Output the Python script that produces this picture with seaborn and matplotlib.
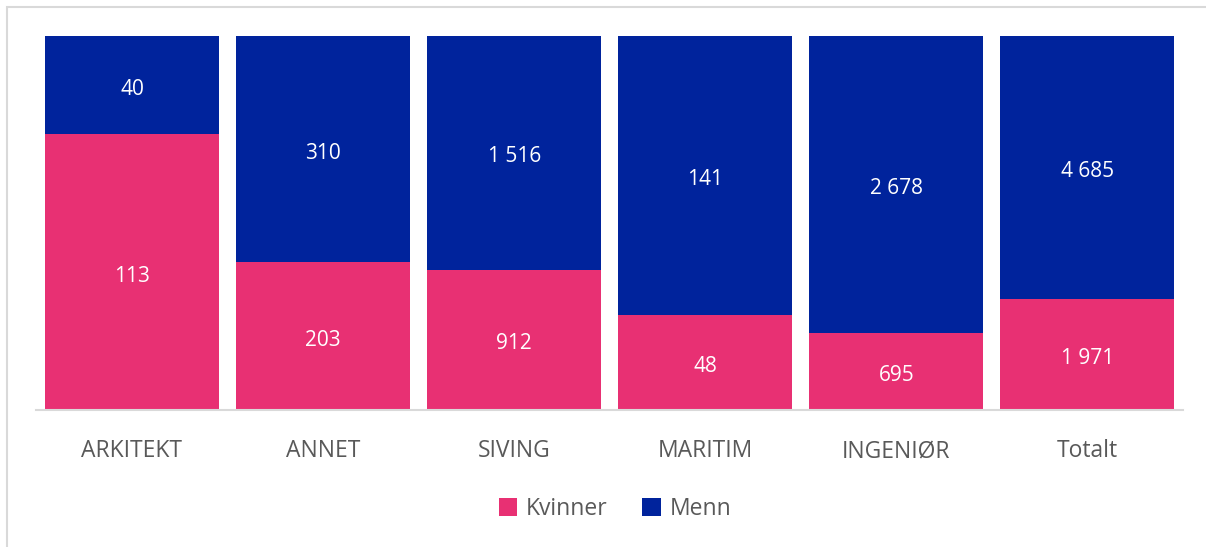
import pandas as pd
import matplotlib.pyplot as plt
import seaborn as sns
from matplotlib.patches import Rectangle

# Data
categories = ['ARKITEKT', 'ANNET', 'SIVING', 'MARITIM', 'INGENIØR', 'Totalt']
kvinner = [113, 203, 912, 48, 695, 1971]
menn = [40, 310, 1516, 141, 2678, 4685]

pink = '#E83073'
blue = '#00239C'
grey = '#595959'

df = pd.DataFrame({'kategori': categories, 'Kvinner': kvinner, 'Menn': menn})
df['total'] = df['Kvinner'] + df['Menn']
df['andel_k'] = df['Kvinner'] / df['total']
df['andel_tot'] = 1.0

sns.set_style('white')
plt.rcParams['font.family'] = ['Open Sans', 'DejaVu Sans']

fig = plt.figure(figsize=(12.06, 5.47), dpi=100)
ax = fig.add_axes([36.4 / 1206, 1 - 410 / 547, (1183 - 36.4) / 1206, 374 / 547])

# light frame around the chart
fig.patches.append(Rectangle((7 / 1206, -0.1), 1.2, 1 - 7 / 547 + 0.1,
                             transform=fig.transFigure, fill=False,
                             edgecolor='#d9d9d9', linewidth=1.5))

sns.barplot(data=df, x='kategori', y='andel_tot', color=blue, width=0.91,
            saturation=1, linewidth=0, ax=ax, label='Menn')
sns.barplot(data=df, x='kategori', y='andel_k', color=pink, width=0.91,
            saturation=1, linewidth=0, ax=ax, label='Kvinner')

def fmt(v):
    return f'{v:,}'.replace(',', ' ')

off = 0.011  # nudge labels down a little
blue_bars = ax.containers[0]
pink_bars = ax.containers[1]
for i, (bb, pb) in enumerate(zip(blue_bars, pink_bars)):
    xc = pb.get_x() + pb.get_width() / 2
    ph = pb.get_height()
    ax.text(xc, ph / 2 - off, fmt(kvinner[i]), ha='center', va='center',
            color='white', fontsize=15)
    ax.text(xc, (ph + 1) / 2 - off, fmt(menn[i]), ha='center', va='center',
            color='white', fontsize=15)

ax.set_ylim(0, 1)
ax.set_xlim(-0.5, len(categories) - 0.5)
ax.set_xlabel('')
ax.set_ylabel('')
ax.set_yticks([])
for s in ['top', 'right', 'left']:
    ax.spines[s].set_visible(False)
ax.spines['bottom'].set_color('#d9d9d9')
ax.spines['bottom'].set_linewidth(1.5)
ax.tick_params(axis='x', length=0, pad=21, labelsize=16.5, labelcolor=grey)

handles, labels = ax.get_legend_handles_labels()
order = [labels.index('Kvinner'), labels.index('Menn')]
ax.legend([handles[i] for i in order], [labels[i] for i in order],
          loc='center', bbox_to_anchor=(615 / 1206, 1 - 509 / 547), bbox_transform=fig.transFigure,
          ncol=2, frameon=False, fontsize=16.5, labelcolor=grey,
          handlelength=0.8, handleheight=0.8, handletextpad=0.4, columnspacing=1.5)

fig.savefig('out.png', dpi=100)
